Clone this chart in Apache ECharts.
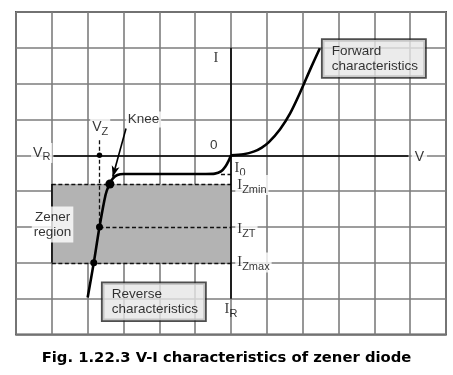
<!DOCTYPE html>
<html><head><meta charset="utf-8">
<script src="https://cdn.jsdelivr.net/npm/echarts@6/dist/echarts.min.js"></script>
<style>html,body{margin:0;padding:0;background:#fff}#c{width:453px;height:375px}</style>
</head><body><div id="c"></div>
<script>
// ---- data (grid units: one square = 1) ----
const forwardV = [0, 0.35, 0.65, 0.85, 1.05, 1.37, 1.65, 1.95, 2.22, 2.48];
const forwardI = [0, 0.03, 0.11, 0.21, 0.36, 0.73, 1.17, 1.8, 2.42, 2.99];
const reverseV = [0, -0.06, -0.16, -0.28, -0.45, -0.7, -3.0, -3.17, -3.3, -3.4, -3.5, -3.67, -3.83, -4.0];
const reverseI = [0, -0.14, -0.32, -0.45, -0.51, -0.52, -0.52, -0.55, -0.65, -0.82, -1.1, -2.0, -3.0, -3.97];
const dotV = [-3.38, -3.67, -3.83, -3.67];
const dotI = [-0.8, -2, -3, 0];
const iZmin = -0.8, iZT = -2, iZmax = -3, i0 = -0.52, vZ = -3.67, vZtop = 0.42;
const zenerLeft = -5;
const axisV = [-4.95, 4.95];
const axisI = [-4, 3];
const kneeFrom = [-2.93, 0.75], kneeTo = [-3.3, -0.6];
const captionText = 'Fig. 1.22.3 V-I characteristics of zener diode';

const zip = (a, b) => a.map((v, i) => [v, b[i]]);
const dotSizes = [9, 7, 7, 5.5];

const noStroke = {textBorderWidth: 0, textBorderColor: 'transparent', textShadowBlur: 0};
const rich = {
  i: Object.assign({fontFamily: 'Liberation Serif', fontSize: 14.5, color: '#000'}, noStroke),
  v: Object.assign({fontFamily: 'Liberation Sans', fontSize: 14, color: '#000'}, noStroke),
  s: Object.assign({fontFamily: 'Liberation Sans', fontSize: 11, padding: [9, 0, 0, 0], color: '#000'}, noStroke)
};
const sans = Object.assign({fontFamily: 'Liberation Sans', fontSize: 13.5, color: '#000'}, noStroke);

function lab(x, y, text, o) {
  o = o || {};
  return {
    value: [x, y],
    label: Object.assign({
      show: true, position: 'inside', formatter: text, rich: rich,
      align: o.align || 'left', verticalAlign: o.va || 'middle'
    }, sans, o.style || {})
  };
}
const white = {backgroundColor: '#fff', padding: [0, 2]};
const boxStyle = {backgroundColor: '#e6e6e6', borderColor: '#222', borderWidth: 1.8,
  padding: [4, 7, 3, 9], lineHeight: 15};

const labels = [
  lab(-0.42, 2.71, '{i|I}', {align: 'center'}),
  lab(-0.48, 0.29, '0', {align: 'center'}),
  lab(-5.58, 0.066, '{v|V}{s|R}', {style: white}),
  lab(5.255, -0.04, 'V', {align: 'center', style: {backgroundColor: '#fff', padding: [1, 3], fontSize: 14}}),
  lab(-3.93, 0.79, '{v|V}{s|Z}', {style: white}),
  lab(-2.94, 1.0, 'Knee', {style: {backgroundColor: '#fff', padding: [1, 2]}}),
  lab(-4.98, -1.93, 'Zener\nregion', {align: 'center', style: {backgroundColor: '#fff', padding: [3, 2], lineHeight: 15}}),
  lab(0.1, -0.355, '{i|I}{s|0}'),
  lab(0.12, -0.83, '{i|I}{s|Zmin}', {style: white}),
  lab(0.12, -2.06, '{i|I}{s|ZT}', {style: white}),
  lab(0.12, -2.99, '{i|I}{s|Zmax}', {style: white}),
  lab(-0.18, -4.3, '{i|I}{s|R}'),
  lab(2.56, 3.22, 'Forward\ncharacteristics', {va: 'top', style: boxStyle}),
  lab(-3.58, -3.57, 'Reverse\ncharacteristics', {va: 'top', style: boxStyle})
];

const arrowSize = [[6, 12], [6, 12]];
const chart = echarts.init(document.getElementById('c'));
chart.setOption({
  animation: false,
  title: {text: captionText, left: 'center', top: 346,
    textStyle: {fontFamily: 'DejaVu Sans', fontWeight: 'bold', fontSize: 14.8, color: '#000'}},
  grid: {left: 16, right: 7, top: 12, bottom: 40.5, show: true, borderColor: '#555', borderWidth: 2},
  xAxis: {type: 'value', min: -6, max: 6, interval: 1,
    axisLine: {show: false}, axisTick: {show: false}, axisLabel: {show: false},
    splitLine: {show: true, lineStyle: {color: '#7d7d7d', width: 1.6}}},
  yAxis: {type: 'value', min: -5, max: 4, interval: 1,
    axisLine: {show: false}, axisTick: {show: false}, axisLabel: {show: false},
    splitLine: {show: true, lineStyle: {color: '#7d7d7d', width: 1.6}}},
  series: [
    { // shaded zener region (under grid lines)
      type: 'line', data: [], z: -1, silent: true,
      markArea: {silent: true, itemStyle: {color: '#b3b3b3'},
        data: [[{coord: [zenerLeft, iZmin]}, {coord: [0, iZmax]}]]}
    },
    { // dashed reference lines
      type: 'line', data: [], z: 3, silent: true,
      markLine: {silent: true, symbol: ['none', 'none'], label: {show: false},
        lineStyle: {color: '#111', width: 1.3, type: [4, 2.5]},
        emphasis: {disabled: true},
        data: [
          [{coord: [zenerLeft, iZmin]}, {coord: [0, iZmin]}],
          [{coord: [zenerLeft, iZmax]}, {coord: [0, iZmax]}],
          [{coord: [vZ, iZT]}, {coord: [0, iZT]}],
          [{coord: [vZ, vZtop]}, {coord: [vZ, iZT]}],
          [{coord: [-0.28, i0]}, {coord: [0, i0]}]
        ]}
    },
    { // axes and arrows
      type: 'line', data: [], z: 4, silent: true,
      markLine: {silent: true, symbol: ['arrow', 'arrow'], symbolSize: arrowSize, label: {show: false},
        lineStyle: {color: '#000', width: 1.6, type: 'solid'},
        emphasis: {disabled: true},
        data: [
          [{coord: [axisV[0], 0]}, {coord: [axisV[1], 0]}],
          [{coord: [0, axisI[0]]}, {coord: [0, axisI[1]]}],
          [{coord: [zenerLeft, iZmin]}, {coord: [zenerLeft, iZmax]}],
          [{coord: kneeFrom, symbol: 'none'}, {coord: kneeTo, symbol: 'arrow', symbolSize: [6, 11]}]
        ]}
    },
    {type: 'line', data: zip(forwardV, forwardI), smooth: 0.3, showSymbol: false, z: 5,
      lineStyle: {color: '#000', width: 2.6}, silent: true},
    {type: 'line', data: zip(reverseV, reverseI), smooth: 0.3, showSymbol: false, z: 5,
      lineStyle: {color: '#000', width: 2.6}, silent: true},
    {type: 'scatter', z: 6, silent: true, itemStyle: {color: '#000', opacity: 1},
      data: zip(dotV, dotI).map((p, k) => ({value: p, symbolSize: dotSizes[k]}))},
    {type: 'scatter', z: 7, silent: true, symbolSize: 0, data: labels}
  ]
});
</script></body></html>
